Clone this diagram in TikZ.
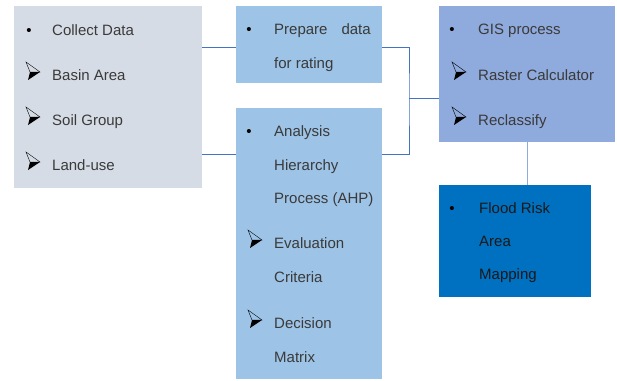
\documentclass[tikz,border=0pt]{standalone}
\usepackage{fontspec}
\setmainfont{Liberation Sans}
\definecolor{graybox}{HTML}{D6DCE5}
\definecolor{lightblue}{HTML}{9DC3E6}
\definecolor{gisblue}{HTML}{8FAADC}
\definecolor{darkblue}{HTML}{0070C0}
\definecolor{linec}{HTML}{4472C4}
\definecolor{txtc}{HTML}{3A3A3A}
\begin{document}
\begin{tikzpicture}[x=1pt,y=-1pt,
  box/.style={anchor=north west, inner sep=0pt, outer sep=0pt, draw=none},
  txt/.style={anchor=base west, inner sep=0pt, font=\fontsize{15}{18}\selectfont, text=txtc},
  dot/.style={anchor=base, inner sep=0pt, font=\fontsize{15}{18}\selectfont, text=black},
  conn/.style={draw=linec, line width=0.8pt},
  conn2/.style={draw=gisblue, line width=1pt},
  arrowbullet/.pic={
    \draw[black, line width=0.4pt, line join=miter] (0,0) -- (-4,-10) -- (10,0) -- cycle;
    \fill[black] (0,0) -- (10,0) -- (-2,8) -- cycle;
  }]
\useasboundingbox (0,0) rectangle (617,380);
% boxes
\node[box, fill=graybox, minimum width=188pt, minimum height=182pt] (b1) at (14,6) {};
\node[box, fill=lightblue, minimum width=146pt, minimum height=77pt] (b2) at (236,6) {};
\node[box, fill=lightblue, minimum width=146pt, minimum height=271pt] (b3) at (236,108) {};
\node[box, fill=gisblue, minimum width=176pt, minimum height=136pt] (gis) at (439,6) {};
\node[box, fill=darkblue, minimum width=152pt, minimum height=112pt] (fl) at (439,185) {};
% connectors
\coordinate (ya) at (0,47);
\coordinate (yb) at (0,154);
\coordinate (j1) at (409,98);
\draw[conn] (b1.east |- ya) -- (b2.west |- ya);
\draw[conn] (b1.east |- yb) -- (b3.west |- yb);
\draw[conn] (b2.east |- ya) -| (j1) |- (b3.east |- yb);
\draw[conn] (j1) -- (gis.west |- j1);
\draw[conn2] (gis.south) -- (gis.south |- fl.north);
% box 1 text
\node[dot] (d1) at (29,35) {•};
\node[txt] (t11) at (52,35) {Collect Data};
\pic at (30,72) {arrowbullet};
\node[txt] (t12) at (52,80) {Basin Area};
\pic at (30,117) {arrowbullet};
\node[txt] (t13) at (52,125) {Soil Group};
\pic at (30,162) {arrowbullet};
\node[txt] (t14) at (52,170) {Land-use};
% box 2 text
\node[dot] (d2) at (249,34) {•};
\node[txt] (t21) at (274,34) {Prepare\hspace{14pt}data};
\node[txt] (t22) at (274,68) {for rating};
% box 3 text
\node[dot] (d3) at (249,136) {•};
\node[txt] (t31) at (274,136) {Analysis};
\node[txt] (t32) at (274,170) {Hierarchy};
\node[txt] (t33) at (274,203) {Process (AHP)};
\pic at (252,240) {arrowbullet};
\node[txt] (t34) at (274,248) {Evaluation};
\node[txt] (t35) at (274,282) {Criteria};
\pic at (252,320) {arrowbullet};
\node[txt] (t36) at (274,328) {Decision};
\node[txt] (t37) at (274,362) {Matrix};
% GIS text
\node[dot] (d4) at (452,34) {•};
\node[txt] (t41) at (478,34) {GIS process};
\pic at (456,72) {arrowbullet};
\node[txt] (t42) at (478,80) {Raster Calculator};
\pic at (456,117) {arrowbullet};
\node[txt] (t43) at (478,125) {Reclassify};
% Flood text
\node[dot] (d5) at (452,213) {•};
\node[txt, text=black!90] (t51) at (479,213) {Flood Risk};
\node[txt, text=black!90] (t52) at (479,246) {Area};
\node[txt, text=black!90] (t53) at (479,279) {Mapping};
\end{tikzpicture}
\end{document}
